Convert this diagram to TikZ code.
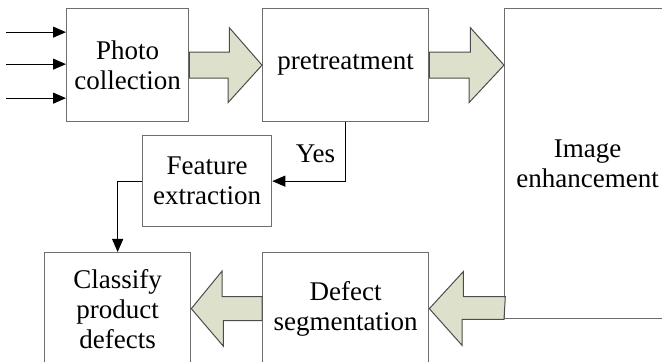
\documentclass[tikz,border=0pt]{standalone}
\usepackage{fontspec}
\setmainfont{Liberation Serif}
\usetikzlibrary{shapes,arrows,arrows.meta,positioning,fit,calc}

\definecolor{boxline}{HTML}{6E6E6E}
\definecolor{arrowfill}{HTML}{DDE1CC}

\tikzset{
  stage/.style={draw=boxline, line width=0.65pt, align=center, anchor=north west,
    inner sep=2pt, font=\fontsize{13.5}{15}\selectfont},
  bigarrow/.style={draw=black!70, line width=0.5pt, fill=arrowfill, line join=miter},
  link/.style={draw=black, line width=0.5pt, -{Triangle[length=6.5pt,width=5.5pt]}}
}

\begin{document}
\begin{tikzpicture}[x=0.5pt, y=-0.5pt]
\path[use as bounding box, clip] (0,0) rectangle (662,362);

% processing stages
\node[stage, minimum width=61pt, minimum height=56.5pt] (photo) at (66,8) {Photo\\collection};
\node[stage, minimum width=83pt, minimum height=56.5pt] (pre) at (262,8) {pretreatment};
\node[stage, minimum width=83pt, minimum height=155pt] (img) at (504,8) {Image\\enhancement};
\node[stage, minimum width=64.5pt, minimum height=45.5pt] (feat) at (142,135) {Feature\\extraction};
\node[stage, minimum width=73pt, minimum height=56pt] (cls) at (44,252) {Classify\\product\\defects};
\node[stage, minimum width=83pt, minimum height=56pt] (seg) at (262,252) {Defect\\segmentation};

% inputs
\foreach \dy [count=\i] in {-33,-1,33} {
  \coordinate (in\i) at ($(photo.west)+(-60,\dy)$);
  \draw[link] (in\i) -- (in\i -| photo.west);
}

% wide flow arrows
\draw[bigarrow] ($(photo.east)+(0,-13)$) -- ++(40,0) -- ++(0,-24.5) -- (pre.west)
  -- ++(-34,37.5) -- ++(0,-24.5) -- ($(photo.east)+(0,13)$) -- cycle;
\draw[bigarrow] ($(pre.east)+(0,-13)$) -- ++(41,0) -- ++(0,-24.5) -- (pre.east -| img.west)
  -- ++(-35,37.5) -- ++(0,-24.5) -- ($(pre.east)+(0,13)$) -- cycle;
\draw[bigarrow] (img.south west) -- ++(-42,0) -- ++(0,26) -- (seg.east)
  -- ++(34,-37) -- ++(0,25) -- ++(42,0) -- cycle;
\draw[bigarrow] ($(seg.west)+(0,-12)$) -- ++(-40,0) -- ++(0,-25.5) -- (cls.east)
  -- ++(32,37.5) -- ++(0,-25.5) -- ($(seg.west)+(0,12)$) -- cycle;

% feature branch
\draw[link] (pre.south) |- (feat.east)
  node[pos=0.27, left, inner sep=5pt, font=\fontsize{13.5}{15}\selectfont] (yes) {Yes};
\draw[link] (feat.west) -| (cls.north);
\end{tikzpicture}
\end{document}
